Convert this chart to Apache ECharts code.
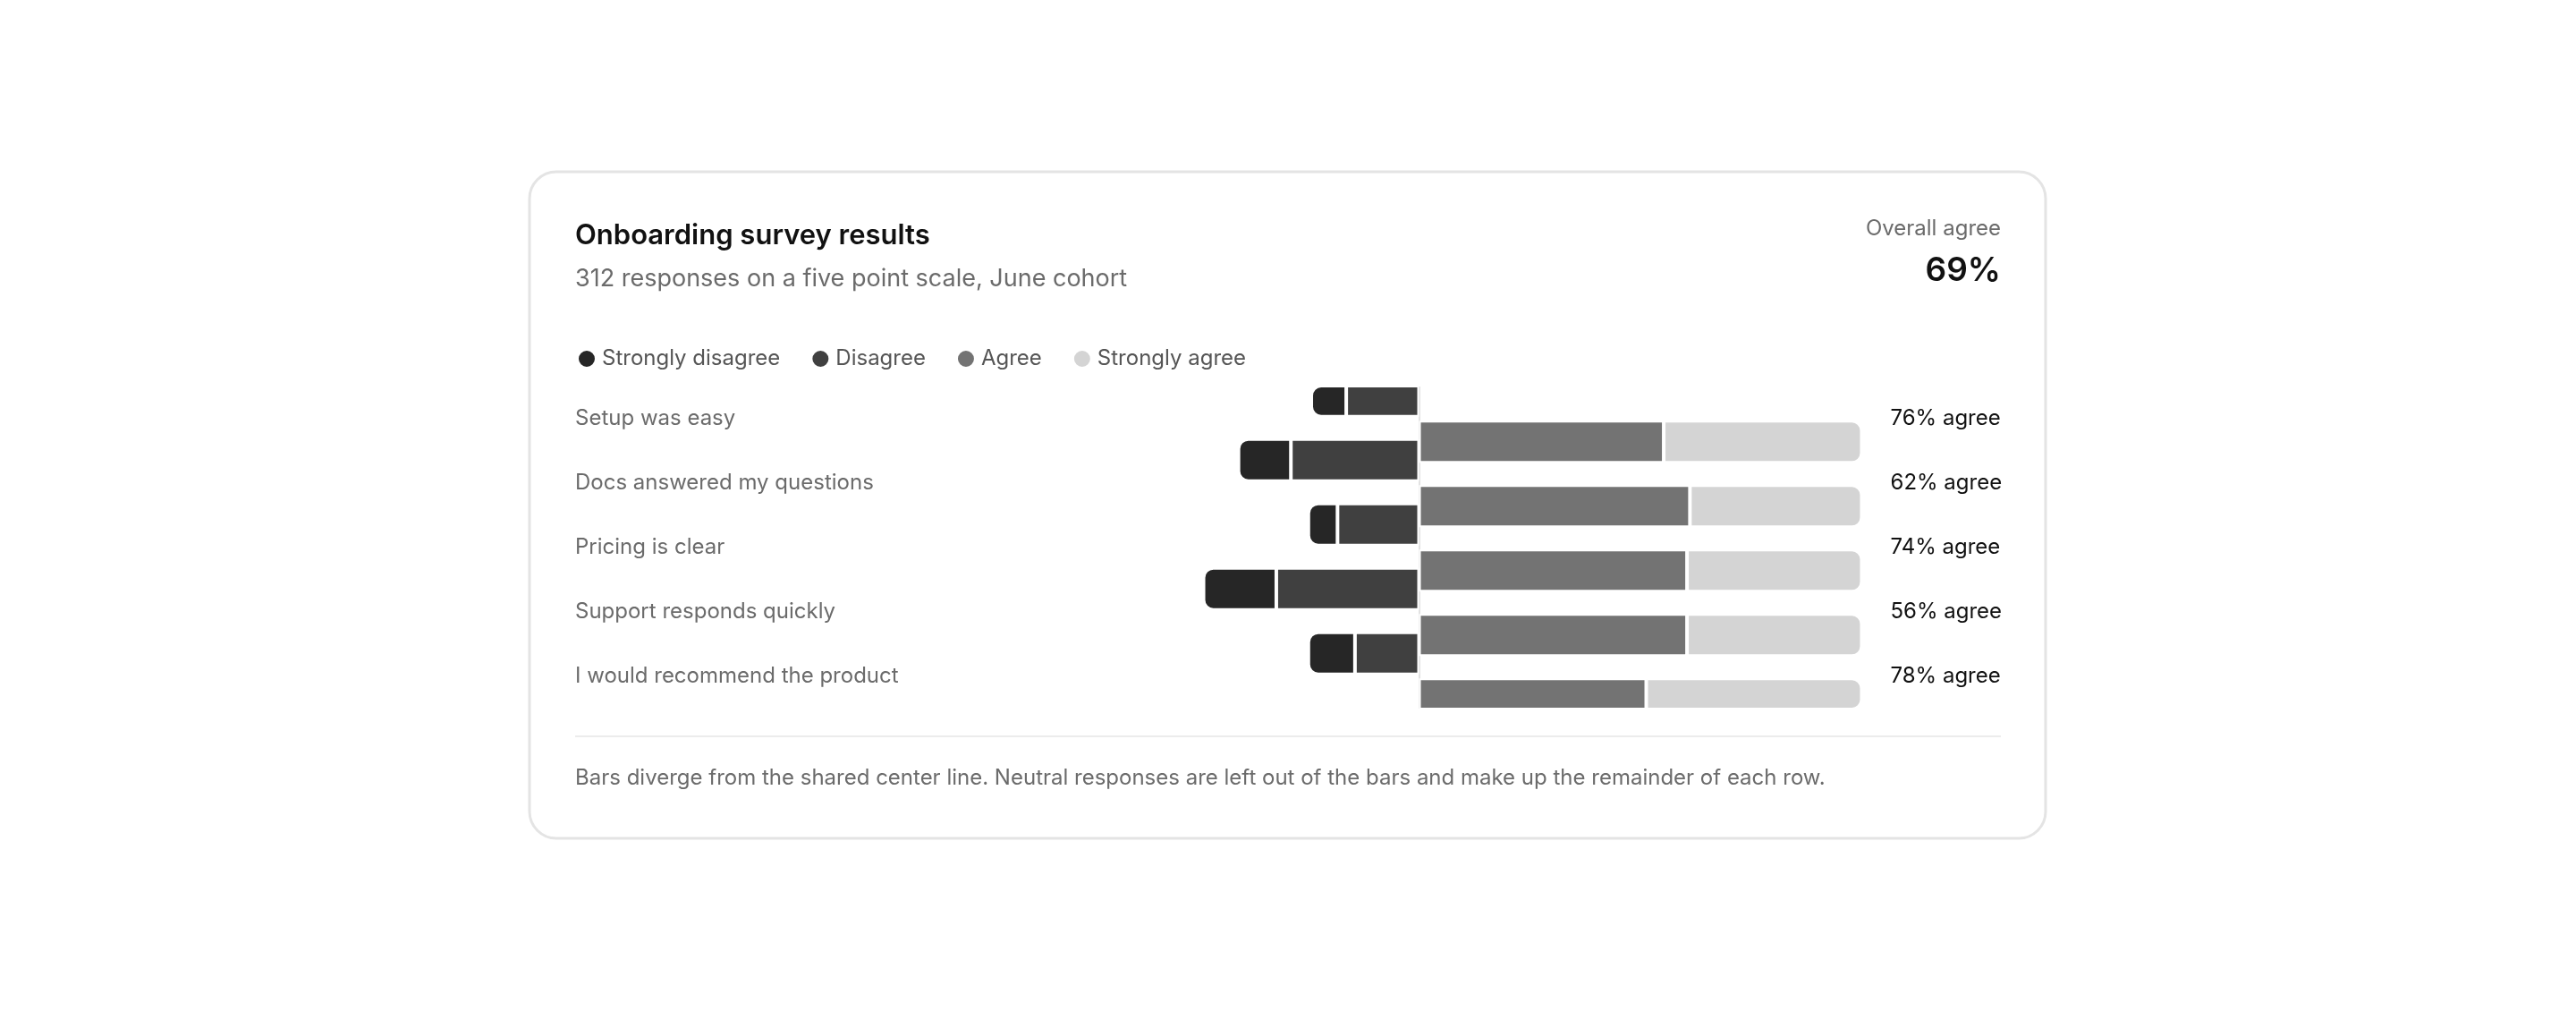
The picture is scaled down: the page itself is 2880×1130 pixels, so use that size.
<!DOCTYPE html>
<html><head><meta charset="utf-8">
<script src="https://cdn.jsdelivr.net/npm/echarts@6/dist/echarts.min.js"></script>
<style>html,body{margin:0;padding:0;background:#fff}#c{width:2880px;height:1130px}</style>
</head><body><div id="c"></div>
<script>
const categories = ['Setup was easy','Docs answered my questions','Pricing is clear','Support responds quickly','I would recommend the product'];
const stronglyDisagree = [6, 9, 5, 12.5, 8];
const disagree = [12.5, 22, 14, 24.5, 11];
const agree = [42, 46.5, 46, 46, 39];
const stronglyAgree = [34, 29.5, 30, 30, 37];
const agreeLabels = ['76% agree','62% agree','74% agree','56% agree','78% agree'];
const overallAgree = '69%';

const F = 'Inter, "Noto Sans", sans-serif';
const chart = echarts.init(document.getElementById('c'));
const R = 10;
const bw = 47;
function ser(name, data, color, stack, radius, z) {
  return { name, type: 'bar', stack, data, barWidth: bw, z: z,
    itemStyle: { color, borderColor: '#fff', borderWidth: 2, borderRadius: radius },
    emphasis: { disabled: true } };
}
chart.setOption({
  animation: false,
  color: ['#262626','#404040','#737373','#d4d4d4'],
  graphic: [
    { type: 'rect', shape: { x: 592, y: 192, width: 1695, height: 745, r: 30 }, style: { fill: '#fff', stroke: '#e4e4e4', lineWidth: 3 }, z: -10 },
    { type: 'text', left: 643, top: 248, style: { text: 'Onboarding survey results', font: '600 31px ' + F, fill: '#111' } },
    { type: 'text', left: 643, top: 298, style: { text: '312 responses on a five point scale, June cohort', font: '400 27px ' + F, fill: '#6b6b6b' } },
    { type: 'text', right: 2880 - 2237, top: 244, style: { text: 'Overall agree', font: '400 24px ' + F, fill: '#6b6b6b', align: 'right' } },
    { type: 'text', right: 2880 - 2237, top: 284, style: { text: overallAgree, font: '600 37px ' + F, fill: '#111', align: 'right' } },
    { type: 'rect', shape: { x: 643, y: 822, width: 1594, height: 2 }, style: { fill: '#ececec' } },
    { type: 'text', left: 643, top: 858, style: { text: 'Bars diverge from the shared center line. Neutral responses are left out of the bars and make up the remainder of each row.', font: '400 24px ' + F, fill: '#6b6b6b' } }
  ],
  legend: {
    left: 640, top: 384, icon: 'circle', itemWidth: 20, itemHeight: 20, itemGap: 34,
    data: ['Strongly disagree','Disagree','Agree','Strongly agree'],
    textStyle: { fontFamily: F, fontSize: 24, color: '#555', padding: [0,0,0,2] }
  },
  grid: { left: 1326, width: 755.5, top: 432, height: 360 },
  xAxis: { type: 'value', min: -40, max: 76, show: false },
  yAxis: [
    { type: 'category', data: categories, inverse: true, axisLine: { show: false }, axisTick: { show: false },
      axisLabel: { align: 'left', margin: 683, fontFamily: F, fontSize: 24, color: '#6b6b6b' } },
    { type: 'category', data: agreeLabels, inverse: true, position: 'right', axisLine: { show: false }, axisTick: { show: false },
      axisLabel: { align: 'left', margin: 32, fontFamily: F, fontSize: 24, color: '#111' } }
  ],
  series: [
    ser('Disagree', disagree.map(v => -v), '#404040', 'neg', 0, 2),
    ser('Strongly disagree', stronglyDisagree.map(v => -v), '#262626', 'neg', [R,0,0,R], 2),
    ser('Agree', agree, '#737373', 'pos', 0, 2),
    Object.assign(ser('Strongly agree', stronglyAgree, '#d4d4d4', 'pos', [0,R,R,0], 2), {
      markLine: { silent: true, symbol: 'none', label: { show: false }, z: 1,
        lineStyle: { color: '#e2e2e2', width: 2, type: 'solid' }, data: [{ xAxis: 0 }] }
    })
  ]
});
</script></body></html>
